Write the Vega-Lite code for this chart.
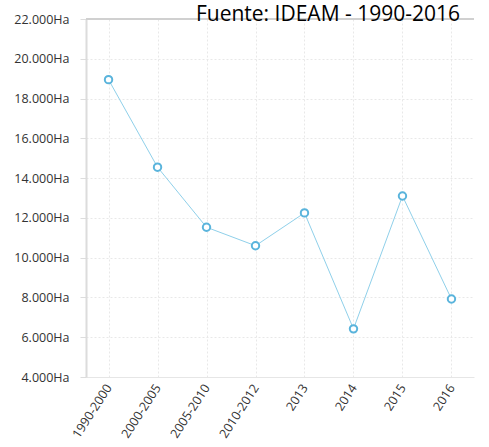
{
  "$schema": "https://vega.github.io/schema/vega-lite/v6.json",
  "width": 388,
  "height": 358,
  "autosize": "none",
  "padding": {"left": 86, "top": 19, "right": 15, "bottom": 70},
  "background": "white",
  "title": {
    "text": "Fuente: IDEAM - 1990-2016",
    "font": "Open Sans",
    "fontSize": 21,
    "fontWeight": "normal",
    "color": "#000000",
    "anchor": "end",
    "frame": "group",
    "baseline": "alphabetic",
    "offset": 0,
    "dx": -14,
    "dy": 29
  },
  "config": {
    "view": {"stroke": null},
    "font": "Open Sans"
  },
  "data": {
    "values": [
      {"periodo": "1990-2000", "ha": 18950},
      {"periodo": "2000-2005", "ha": 14550},
      {"periodo": "2005-2010", "ha": 11530},
      {"periodo": "2010-2012", "ha": 10600},
      {"periodo": "2013", "ha": 12250},
      {"periodo": "2014", "ha": 6420},
      {"periodo": "2015", "ha": 13100},
      {"periodo": "2016", "ha": 7920}
    ]
  },
  "encoding": {
    "x": {
      "field": "periodo",
      "type": "ordinal",
      "sort": null,
      "scale": {"type": "point", "padding": 0.46},
      "axis": {
        "title": null,
        "labelAngle": -57,
        "labelFontSize": 12.5,
        "labelColor": "#333333",
        "labelPadding": 8,
        "ticks": false,
        "domainColor": "#e6e6e6",
        "domainWidth": 1,
        "grid": true,
        "gridColor": "#e8e8e8",
        "gridDash": [2, 2],
        "gridWidth": 1
      }
    },
    "y": {
      "field": "ha",
      "type": "quantitative",
      "scale": {"domain": [4000, 22000], "nice": false, "zero": false},
      "axis": {
        "title": null,
        "values": [4000, 6000, 8000, 10000, 12000, 14000, 16000, 18000, 20000, 22000],
        "labelExpr": "replace(format(datum.value, ',d'), ',', '.') + 'Ha'",
        "labelFontSize": 12.5,
        "labelColor": "#333333",
        "labelPadding": 11,
        "tickColor": "#dddddd",
        "tickSize": 6,
        "domainColor": "#dcdcdc",
        "domainWidth": 2,
        "grid": true,
        "gridColor": "#e8e8e8",
        "gridDash": [2, 2],
        "gridWidth": 1
      }
    }
  },
  "layer": [
    {
      "mark": {"type": "rule", "color": "#d0d0d0", "strokeWidth": 2},
      "encoding": {"y": {"datum": 22000}, "x": null}
    },
    {
      "mark": {"type": "line", "color": "#8fd0ea", "strokeWidth": 1}
    },
    {
      "mark": {"type": "point", "shape": "circle", "filled": true, "fill": "white", "stroke": "#5ab4dc", "strokeWidth": 2, "size": 55, "opacity": 1}
    }
  ]
}
